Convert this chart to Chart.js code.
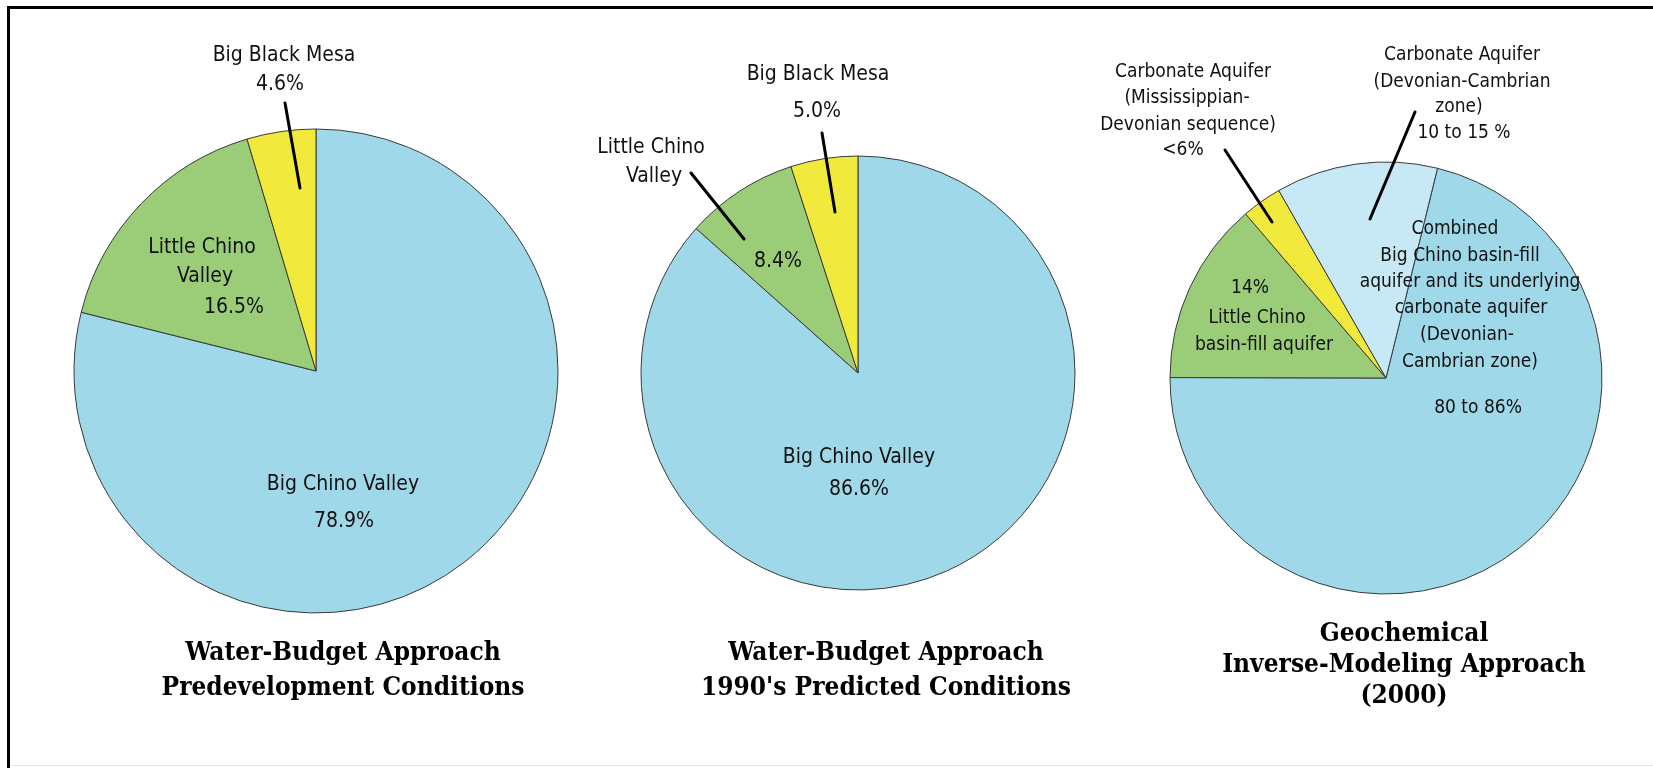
<!DOCTYPE html>
<html>
<head>
<meta charset="utf-8">
<script src="https://cdn.jsdelivr.net/npm/chart.js@4.4.1/dist/chart.umd.min.js"></script>
<style>
  html, body { margin: 0; padding: 0; background: #ffffff; width: 1653px; height: 768px; overflow: hidden; }
  #wrap { position: relative; width: 1653px; height: 768px; }
  #wrap canvas { position: absolute; left: 0; top: 0; }
  .rule { position: absolute; background: #000; }
</style>
</head>
<body>
<div id="wrap">
  <div class="rule" style="left:7px;top:6px;width:1646px;height:3px;"></div>
  <div class="rule" style="left:7px;top:6px;width:3px;height:762px;"></div>
  <div class="rule" style="left:10px;top:765px;width:1643px;height:1px;background:#e4e4e4;"></div>
  <canvas id="pie1" width="1653" height="768"></canvas>
  <canvas id="pie2" width="1653" height="768"></canvas>
  <canvas id="pie3" width="1653" height="768"></canvas>
</div>
<script>
// ---------------- data ----------------
const pie1Categories = [['Big Chino Valley'], ['Little Chino', 'Valley'], ['Big Black Mesa']];
const pie1Values = [78.9, 16.5, 4.6];
const pie1Title = ['Water-Budget Approach', 'Predevelopment Conditions'];

const pie2Categories = [['Big Chino Valley'], ['Little Chino', 'Valley'], ['Big Black Mesa']];
const pie2Values = [86.6, 8.4, 5.0];
const pie2Title = ['Water-Budget Approach', "1990's Predicted Conditions"];

const pie3Categories = [
  ['Combined', 'Big Chino basin-fill', 'aquifer and its underlying', 'carbonate aquifer', '(Devonian-', 'Cambrian zone)'],
  ['Little Chino', 'basin-fill aquifer'],
  ['Carbonate Aquifer', '(Mississippian-', 'Devonian sequence)'],
  ['Carbonate Aquifer', '(Devonian-Cambrian', 'zone)']
];
const pie3Values = [71.2, 13.7, 3.0, 12.1];
const pie3ValueLabels = ['80 to 86%', '14%', '<6%', '10 to 15 %'];
const pie3Title = ['Geochemical', 'Inverse-Modeling Approach', '(2000)'];

// ---------------- styles / layout ----------------
const COLORS = {
  bigChino: '#9fd9e9',
  littleChino: '#9bcd79',
  mesa: '#f1ea3c',
  carbonate: '#c7e8f5',
  edge: '#3a3a3a'
};
const LABEL_FONT = "21px 'DejaVu Sans Condensed', 'Liberation Sans Narrow', 'DejaVu Sans', sans-serif";
const LABEL_FONT_SMALL = "19px 'DejaVu Sans Condensed', 'Liberation Sans Narrow', 'DejaVu Sans', sans-serif";
const TITLE_FONT = "bold 26px 'DejaVu Serif Condensed', 'DejaVu Serif', serif";

const pct = v => v.toFixed(1) + '%';

// annotation plugin: text and leader lines placed relative to the pie centre
const annotate = {
  id: 'annotate',
  afterDraw(chart, args, opts) {
    const arc = chart.getDatasetMeta(0).data[0];
    if (!arc) return;
    const cx = arc.x, cy = arc.y;
    const ctx = chart.ctx;
    const cats = chart.data.labels;
    ctx.save();
    ctx.strokeStyle = '#000';
    ctx.lineWidth = 3;
    ctx.lineCap = 'round';
    (opts.leaders || []).forEach(l => {
      ctx.beginPath();
      ctx.moveTo(cx + l[0], cy + l[1]);
      ctx.lineTo(cx + l[2], cy + l[3]);
      ctx.stroke();
    });
    ctx.fillStyle = '#111';
    ctx.textAlign = 'center';
    ctx.textBaseline = 'alphabetic';
    ctx.font = opts.labelFont;
    cats.forEach((lines, i) => {
      const pos = opts.labelPos[i];
      const all = lines.concat([opts.valueLabels[i]]);
      all.forEach((t, j) => {
        if (pos[j]) ctx.fillText(t, cx + pos[j][0], cy + pos[j][1]);
      });
    });
    ctx.font = TITLE_FONT;
    ctx.fillStyle = '#000';
    opts.title.forEach((t, j) => {
      ctx.fillText(t, cx + opts.titlePos[0], cy + opts.titlePos[1] + j * opts.titleStep);
    });
    ctx.restore();
  }
};

function makePie(id, cats, values, colors, geo, ann) {
  const W = 1653, H = 768;
  return new Chart(document.getElementById(id), {
    type: 'pie',
    data: {
      labels: cats,
      datasets: [{
        data: values,
        backgroundColor: colors,
        borderColor: COLORS.edge,
        borderWidth: 1,
        radius: geo.r,
        rotation: geo.rotation || 0
      }]
    },
    options: {
      responsive: false,
      animation: false,
      events: [],
      layout: {
        padding: {
          left: geo.cx - geo.r,
          right: W - geo.cx - geo.r,
          top: geo.cy - geo.r,
          bottom: H - geo.cy - geo.r
        }
      },
      plugins: {
        legend: { display: false },
        tooltip: { enabled: false },
        title: { display: false },
        annotate: ann
      }
    },
    plugins: [annotate]
  });
}

makePie('pie1', pie1Categories, pie1Values,
  [COLORS.bigChino, COLORS.littleChino, COLORS.mesa],
  { cx: 316, cy: 371, r: 242 },
  {
    labelFont: LABEL_FONT,
    valueLabels: pie1Values.map(pct),
    labelPos: [
      [[27, 119], [28, 156]],
      [[-114, -118], [-111, -89], [-82, -58]],
      [[-32, -310], [-36, -281]]
    ],
    leaders: [[-31, -268, -16, -183]],
    title: pie1Title,
    titlePos: [27, 289],
    titleStep: 35
  });

makePie('pie2', pie2Categories, pie2Values,
  [COLORS.bigChino, COLORS.littleChino, COLORS.mesa],
  { cx: 858, cy: 373, r: 217 },
  {
    labelFont: LABEL_FONT,
    valueLabels: pie2Values.map(pct),
    labelPos: [
      [[1, 90], [1, 122]],
      [[-207, -220], [-204, -191], [-80, -106]],
      [[-40, -293], [-41, -256]]
    ],
    leaders: [[-167, -200, -114, -134], [-36, -240, -23, -161]],
    title: pie2Title,
    titlePos: [28, 287],
    titleStep: 35
  });

makePie('pie3', pie3Categories, pie3Values,
  [COLORS.bigChino, COLORS.littleChino, COLORS.mesa, COLORS.carbonate],
  { cx: 1386, cy: 378, r: 216, rotation: 13.8 },
  {
    labelFont: LABEL_FONT_SMALL,
    valueLabels: pie3ValueLabels,
    labelPos: [
      [[69, -144], [74, -117], [84, -91], [85, -65], [81, -38], [84, -11], [92, 35]],
      [[-129, -55], [-122, -28], [-136, -85]],
      [[-193, -301], [-199, -275], [-198, -248], [-203, -223]],
      [[76, -318], [76, -291], [73, -266], [78, -240]]
    ],
    leaders: [[-161, -228, -114, -156], [29, -266, -16, -159]],
    title: pie3Title,
    titlePos: [18, 263],
    titleStep: 31
  });
</script>
</body>
</html>
